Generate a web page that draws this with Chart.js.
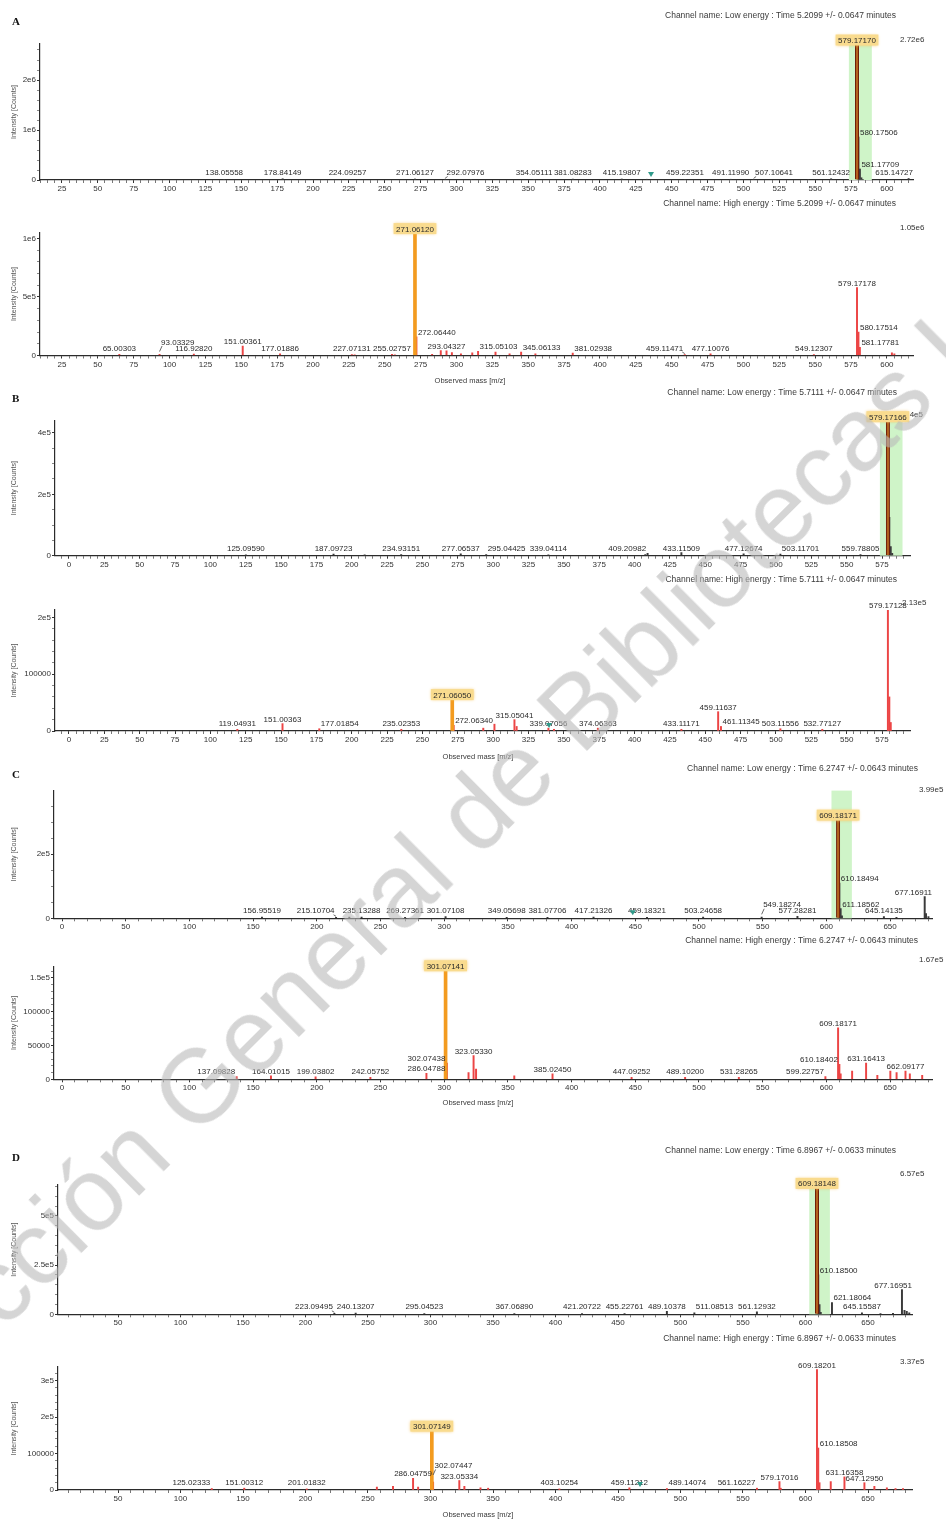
<!DOCTYPE html>
<html>
<head>
<meta charset="utf-8">
<script src="https://cdn.jsdelivr.net/npm/chart.js@4.4.1/dist/chart.umd.min.js"></script>
<style>
  html, body { margin: 0; padding: 0; background: #fff; }
  #page { position: relative; width: 946px; height: 1521px; overflow: hidden; background: #fff; }
  #page canvas { position: absolute; left: 0; }
  #wm {
    position: absolute; left: -158px; top: 1388px; white-space: nowrap;
    font-family: "Liberation Sans", Arial, sans-serif; font-size: 104px; line-height: 104px;
    color: rgba(185, 185, 185, 0.6); transform-origin: 0 50%; transform: rotate(-44.8deg);
    pointer-events: none;
  }
</style>
</head>
<body>
<div id="page">
  <div id="wm">Dirección General de Bibliotecas UAQ</div>
</div>
<script>
// ---------- spectra: [m/z, intensity (counts)] ----------
const peaksA1 = [
  [138.05558, 1.2e4], [178.84149, 2.5e4], [224.09257, 1.0e4], [271.06127, 2.0e4],
  [292.07976, 1.5e4], [354.05111, 1.2e4], [381.08283, 1.8e4], [415.19807, 2.0e4],
  [459.22351, 1.0e4], [491.11990, 1.5e4], [507.10641, 1.2e4], [561.12432, 2.5e4],
  [579.17170, 2.72e6], [580.17506, 8.6e5], [581.17709, 2.2e5], [615.14727, 3.0e4]
];
const noiseA1 = [[432.6, 1.5e4], [582.2, 4.5e4], [583.2, 1.2e4], [177.6, 8e3], [310.1, 6e3], [545.2, 8e3]];

const peaksA2 = [
  [65.00303, 1.0e4], [93.03329, 1.0e4], [116.92820, 1.2e4], [151.00361, 8e4], [177.01886, 1.5e4],
  [227.07131, 8e3], [255.02757, 1.0e4], [271.06120, 1.05e6], [272.06440, 1.6e5], [293.04327, 4e4],
  [315.05103, 3.5e4], [345.06133, 3e4], [381.02938, 2e4], [459.11471, 8e3], [477.10076, 1.5e4],
  [549.12307, 8e3], [579.17178, 5.8e5], [580.17514, 2.0e5], [581.17781, 7e4]
];
const noiseA2 = [[283.0, 1.0e4], [289.05, 4.2e4], [296.8, 2.5e4], [303.1, 1.5e4], [311.0, 2.2e4], [327.2, 3.0e4],
  [337.0, 1.5e4], [355.0, 1.5e4], [603.5, 2.2e4], [605.2, 1.5e4], [257.0, 6e3], [229.0, 5e3]];

const peaksB1 = [
  [125.09590, 3e3], [187.09723, 5e3], [234.93151, 4e3], [277.06537, 6e3], [295.04425, 4e3], [339.04114, 3e3],
  [409.20982, 8e3], [433.11509, 1.0e4], [477.12674, 6e3], [503.11701, 5e3], [559.78805, 4e3], [579.17166, 4.4e5]
];
const noiseB1 = [[580.17, 1.25e5], [581.17, 3.0e4], [582.2, 8e3], [407.6, 4e3], [209.1, 3e3]];

const peaksB2 = [
  [119.04931, 3e3], [151.00363, 1.3e4], [177.01854, 4e3], [235.02353, 3e3], [271.06050, 5.7e4], [272.06340, 1.0e4],
  [315.05041, 2.0e4], [339.07056, 5e3], [374.06363, 5e3], [433.11171, 3e3], [459.11637, 3.4e4], [461.11345, 8e3],
  [503.11556, 4e3], [532.77127, 3e3], [579.17128, 2.13e5]
];
const noiseB2 = [[580.17, 6.0e4], [581.18, 1.5e4], [300.9, 1.2e4], [293.0, 5e3], [316.6, 8e3], [343.0, 3e3]];

const peaksC1 = [
  [156.95519, 4e3], [215.10704, 3e3], [235.13288, 4e3], [269.27361, 3e3], [301.07108, 5e3], [349.05698, 3e3],
  [381.07706, 3e3], [417.21326, 4e3], [459.18321, 3e3], [503.24658, 4e3], [549.18274, 4e3], [577.28281, 6e3],
  [609.18171, 3.1e5], [610.18494, 1.1e5], [611.18562, 3e4], [645.14135, 5e3], [677.16911, 6.75e4]
];
const noiseC1 = [[612.2, 8e3], [678.2, 1.5e4], [680.1, 5e3], [655.0, 3e3], [225.5, 4e3]];

const peaksC2 = [
  [137.09828, 4e3], [164.01015, 5e3], [199.03802, 3.5e3], [242.05752, 3e3], [286.04788, 9e3], [301.07141, 1.62e5],
  [302.07438, 2.4e4], [323.05330, 3.5e4], [385.02450, 8e3], [447.09252, 3e3], [489.10200, 3e3], [531.28265, 3e3],
  [599.22757, 4e3], [609.18171, 7.6e4], [610.18402, 2.2e4], [631.16413, 2.4e4], [662.09177, 1.2e4]
];
const noiseC2 = [[319.1, 1.0e4], [325.0, 1.5e4], [355.0, 5e3], [611.2, 8e3], [620.2, 1.2e4], [640.0, 6e3],
  [650.2, 1.2e4], [655.1, 1.0e4], [665.5, 8e3], [675.2, 6e3]];

const peaksD1 = [
  [223.09495, 5e3], [240.13207, 6e3], [295.04523, 4e3], [367.06890, 4e3], [421.20722, 4e3], [455.22761, 4e3],
  [489.10378, 1.5e4], [511.08513, 8e3], [561.12932, 1.2e4], [609.18148, 6.45e5], [610.18500, 2.0e5], [621.18064, 6e4],
  [645.15587, 8e3], [677.16951, 1.25e5]
];
const noiseD1 = [[611.2, 5e4], [612.2, 1.0e4], [679.2, 2.0e4], [681.0, 1.5e4], [683.0, 8e3], [670.0, 5e3], [660.0, 4e3]];

const peaksD2 = [
  [125.02333, 4e3], [151.00312, 5e3], [201.01832, 3e3], [286.04759, 3.2e4], [301.07149, 1.64e5], [302.07447, 2.2e4],
  [323.05334, 2.6e4], [403.10254, 3e3], [459.11212, 6e3], [489.14074, 4e3], [561.16227, 5e3], [579.17016, 2.3e4],
  [609.18201, 3.3e5], [610.18508, 1.15e5], [631.16358, 3.6e4], [647.12950, 2.0e4]
];
const noiseD2 = [[620.2, 2.3e4], [611.2, 2.0e4], [655.1, 1.0e4], [665.1, 6e3], [672.0, 4e3], [678.0, 4e3],
  [257.1, 8e3], [270.0, 1.0e4], [290.1, 8e3], [327.1, 1.0e4], [340.0, 6e3], [346.1, 5e3], [580.2, 5e3]];

// selected ion in each spectrum (highlighted)
const focusA1 = 579.17170, focusA2 = 271.06120;
const focusB1 = 579.17166, focusB2 = 271.06050;
const focusC1 = 609.18171, focusC2 = 301.07141;
const focusD1 = 609.18148, focusD2 = 301.07149;

// precursor isolation windows (low energy)
const windowA1 = [573.5, 589.5];
const windowB1 = [573.5, 589.5];
const windowC1 = [604, 620];
const windowD1 = [603, 619.5];

// flagged positions
const flagsA1 = [435.6];
const flagsB2 = [339.5];
const flagsC1 = [448];
const flagsD2 = [467.6];

// full-scale intensity of each plot
const fullScaleA1 = 2.72e6, fullScaleA2 = 1.05e6;
const fullScaleB1 = 4.4e5, fullScaleB2 = 2.13e5;
const fullScaleC1 = 3.99e5, fullScaleC2 = 1.67e5;
const fullScaleD1 = 6.57e5, fullScaleD2 = 3.37e5;

// m/z axis extents
const xRangeA = [9.7, 618.2];
const xRangeB = [-9.9, 594.8];
const xRangeC = [-6.3, 682.9];
const xRangeD = [2, 685.2];

// tick labels
const xTicksA = [25, 50, 75, 100, 125, 150, 175, 200, 225, 250, 275, 300, 325, 350, 375, 400, 425, 450, 475, 500, 525, 550, 575, 600];
const xTicksB = [0, 25, 50, 75, 100, 125, 150, 175, 200, 225, 250, 275, 300, 325, 350, 375, 400, 425, 450, 475, 500, 525, 550, 575];
const xTicksC = [0, 50, 100, 150, 200, 250, 300, 350, 400, 450, 500, 550, 600, 650];
const xTicksD = [50, 100, 150, 200, 250, 300, 350, 400, 450, 500, 550, 600, 650];

const yTicksA1 = [0, 1e6, 2e6],              yTextA1 = ['0', '1e6', '2e6'];
const yTicksA2 = [0, 5e5, 1e6],              yTextA2 = ['0', '5e5', '1e6'];
const yTicksB1 = [0, 2e5, 4e5],              yTextB1 = ['0', '2e5', '4e5'];
const yTicksB2 = [0, 1e5, 2e5],              yTextB2 = ['0', '100000', '2e5'];
const yTicksC1 = [0, 2e5],                   yTextC1 = ['0', '2e5'];
const yTicksC2 = [0, 5e4, 1e5, 1.5e5],       yTextC2 = ['0', '50000', '100000', '1.5e5'];
const yTicksD1 = [0, 2.5e5, 5e5],            yTextD1 = ['0', '2.5e5', '5e5'];
const yTicksD2 = [0, 1e5, 2e5, 3e5],         yTextD2 = ['0', '100000', '2e5', '3e5'];

const channelA1 = 'Channel name: Low energy : Time 5.2099 +/- 0.0647 minutes';
const channelA2 = 'Channel name: High energy : Time 5.2099 +/- 0.0647 minutes';
const channelB1 = 'Channel name: Low energy : Time 5.7111 +/- 0.0647 minutes';
const channelB2 = 'Channel name: High energy : Time 5.7111 +/- 0.0647 minutes';
const channelC1 = 'Channel name: Low energy : Time 6.2747 +/- 0.0643 minutes';
const channelC2 = 'Channel name: High energy : Time 6.2747 +/- 0.0643 minutes';
const channelD1 = 'Channel name: Low energy : Time 6.8967 +/- 0.0633 minutes';
const channelD2 = 'Channel name: High energy : Time 6.8967 +/- 0.0633 minutes';

// ---------- page layout (pixel boxes for each plot) ----------
const panels = [
  { letter: 'A', channel: channelA1, peaks: peaksA1, noise: noiseA1, focus: focusA1, window: windowA1, flags: flagsA1,
    fullScale: fullScaleA1, xRange: xRangeA, xTicks: xTicksA, xMinor: 5, yTicks: yTicksA1, yText: yTextA1, yMinor: 2e5, low: true,
    box: { top: 0, h: 200, l: 40, r: 913, t: 44, b: 180 }, chan: [896, 16], full: [900, 40], letterAt: [12, 22] },
  { channel: channelA2, peaks: peaksA2, noise: noiseA2, focus: focusA2, flags: [],
    fullScale: fullScaleA2, xRange: xRangeA, xTicks: xTicksA, xMinor: 5, yTicks: yTicksA2, yText: yTextA2, yMinor: 1e5, low: false,
    box: { top: 198, h: 192, l: 40, r: 913, t: 232.6, b: 355.5 }, chan: [896, 204], full: [900, 228], xTitle: [470, 381] },
  { letter: 'B', channel: channelB1, peaks: peaksB1, noise: noiseB1, focus: focusB1, window: windowB1, flags: [],
    fullScale: fullScaleB1, xRange: xRangeB, xTicks: xTicksB, xMinor: 5, yTicks: yTicksB1, yText: yTextB1, yMinor: 5e4, low: true,
    box: { top: 386, h: 190, l: 55, r: 910, t: 420.7, b: 555.7 }, chan: [897, 393], full: [903, 415], letterAt: [12, 399] },
  { channel: channelB2, peaks: peaksB2, noise: noiseB2, focus: focusB2, flags: flagsB2,
    fullScale: fullScaleB2, xRange: xRangeB, xTicks: xTicksB, xMinor: 5, yTicks: yTicksB2, yText: yTextB2, yMinor: 2e4, low: false,
    box: { top: 575, h: 190, l: 55, r: 910, t: 610, b: 731 }, chan: [897, 580], full: [902, 603], xTitle: [478, 757] },
  { letter: 'C', channel: channelC1, peaks: peaksC1, noise: noiseC1, focus: focusC1, window: windowC1, flags: flagsC1,
    fullScale: fullScaleC1, xRange: xRangeC, xTicks: xTicksC, xMinor: 10, yTicks: yTicksC1, yText: yTextC1, yMinor: 5e4, low: true,
    box: { top: 762, h: 176, l: 54, r: 932, t: 790.6, b: 918.3 }, chan: [918, 769], full: [919, 790], letterAt: [12, 775] },
  { channel: channelC2, peaks: peaksC2, noise: noiseC2, focus: focusC2, flags: [],
    fullScale: fullScaleC2, xRange: xRangeC, xTicks: xTicksC, xMinor: 10, yTicks: yTicksC2, yText: yTextC2, yMinor: 1e4, low: false,
    box: { top: 935, h: 176, l: 54, r: 932, t: 966.4, b: 1079.3 }, chan: [918, 941], full: [919, 960], xTitle: [478, 1103] },
  { letter: 'D', channel: channelD1, peaks: peaksD1, noise: noiseD1, focus: focusD1, window: windowD1, flags: [],
    fullScale: fullScaleD1, xRange: xRangeD, xTicks: xTicksD, xMinor: 10, yTicks: yTicksD1, yText: yTextD1, yMinor: 5e4, low: true,
    box: { top: 1143, h: 192, l: 58, r: 912, t: 1185, b: 1314.3 }, chan: [896, 1151], full: [900, 1174], letterAt: [12, 1158] },
  { channel: channelD2, peaks: peaksD2, noise: noiseD2, focus: focusD2, flags: flagsD2,
    fullScale: fullScaleD2, xRange: xRangeD, xTicks: xTicksD, xMinor: 10, yTicks: yTicksD2, yText: yTextD2, yMinor: 2e4, low: false,
    box: { top: 1333, h: 188, l: 58, r: 912, t: 1367, b: 1490 }, chan: [896, 1339], full: [900, 1362], xTitle: [478, 1515] }
];

const SANS = '"Liberation Sans", Arial, sans-serif';
const LABEL_FONT = '8px ' + SANS;
const X_AXIS_H = 14;
const LIFT_STEP = 6;

function sci(v) {
  const e = Math.floor(Math.log10(v));
  const m = parseFloat((v / Math.pow(10, e)).toFixed(2));
  return m + 'e' + e;
}

function stepTicks(min, max, step) {
  const out = [];
  for (let k = Math.ceil(min / step - 1e-9); k * step <= max + 1e-9; k++) out.push({ value: +(k * step).toFixed(6) });
  return out;
}

function isIn(list, v, tol) { return list.findIndex(t => Math.abs(t - v) < tol); }

// Peak annotation: most intense first, shifted/raised when a spot is taken
function drawAnnotations(chart, p) {
  const { ctx, chartArea: a, scales: { x: xs, y: ys } } = chart;
  const base = ys.getPixelForValue(0);
  const sticks = p.peaks.concat(p.noise).map(([m, v]) => ({ m, x: xs.getPixelForValue(m), top: ys.getPixelForValue(v) }));
  const order = p.peaks.map(([m, v]) => ({ m, v, focus: m === p.focus }))
    .sort((A, B) => (B.focus - A.focus) || (B.v - A.v));
  ctx.save();
  ctx.font = LABEL_FONT;
  const placed = [], out = [];
  for (const it of order) {
    const text = it.m.toFixed(5);
    const w = ctx.measureText(text).width;
    const px = xs.getPixelForValue(it.m), top = ys.getPixelForValue(it.v);
    const padX = it.focus ? 2.5 : 0.6, padT = it.focus ? 8.5 : 5.8, padB = it.focus ? 2.5 : 0;
    const b0 = it.focus ? top - 1 : Math.min(top - 2, base - 5);
    const cands = [[0, 0], [1, 0], [-1, 0]];
    for (let L = 1; L <= 16; L++) cands.push([1, L], [-1, L], [0, L]);
    let pick = null;
    for (const [dir, L] of cands) {
      const bl = b0 - L * LIFT_STEP;
      let left = dir === 0 ? px - w / 2 : dir === 1 ? px + 1.5 : px - 1.5 - w;
      left = Math.max(a.left + 2, Math.min(left, a.right - w));
      const box = { l: left - padX, r: left + w + padX, t: bl - padT, b: bl + padB };
      if (placed.some(q => q.l < box.r && box.l < q.r && q.t < box.b && box.t < q.b)) continue;
      if (!it.focus && sticks.some(s => s.m !== it.m && s.x > left + 0.5 && s.x < left + w - 0.5 && s.top < box.b)) continue;
      pick = { left, bl, box, dir, L };
      break;
    }
    if (!pick) continue;
    placed.push(pick.box);
    out.push({ text, px, top, w, focus: it.focus, ...pick });
  }
  // leaders
  ctx.strokeStyle = '#444';
  ctx.lineWidth = 0.8;
  for (const o of out) {
    if (o.focus || (o.dir === 0 && o.L === 0)) continue;
    const ex = o.dir === 1 ? o.left + 1 : o.dir === -1 ? o.left + o.w - 1 : o.px;
    const ey = o.bl + 1.5;
    const sy = Math.min(o.top - 1, o.bl + 7);
    if (sy - ey < 1.5) continue;
    ctx.beginPath(); ctx.moveTo(o.px, sy); ctx.lineTo(ex, ey); ctx.stroke();
  }
  // boxes + text
  ctx.textBaseline = 'alphabetic';
  ctx.textAlign = 'left';
  for (const o of out) {
    if (o.focus) {
      ctx.save();
      ctx.shadowColor = 'rgba(245,195,90,0.9)';
      ctx.shadowBlur = 3;
      ctx.fillStyle = '#f9db8e';
      ctx.fillRect(o.box.l, o.box.t, o.box.r - o.box.l, o.box.b - o.box.t);
      ctx.restore();
    }
    ctx.fillStyle = '#2a2a2a';
    ctx.fillText(o.text, o.left, o.bl);
  }
  // flags
  ctx.fillStyle = '#2f9a8a';
  for (const m of p.flags) {
    const fx = xs.getPixelForValue(m);
    ctx.beginPath();
    ctx.moveTo(fx - 3, base - 8); ctx.lineTo(fx + 3, base - 8); ctx.lineTo(fx, base - 3); ctx.closePath();
    ctx.fill();
  }
  ctx.restore();
}

function spectrumPlugin(p) {
  const oy = p.box.top;
  return {
    id: 'spectrumDecor',
    beforeDatasetsDraw(chart) {
      const { ctx, chartArea: a, scales: { x: xs } } = chart;
      ctx.save();
      if (p.window) {
        const x0 = xs.getPixelForValue(p.window[0]), x1 = xs.getPixelForValue(p.window[1]);
        ctx.fillStyle = '#cff4c8';
        ctx.fillRect(x0, a.top, x1 - x0, a.bottom - a.top);
      }
      ctx.font = '8px ' + SANS;
      ctx.fillStyle = '#333';
      ctx.textBaseline = 'middle';
      ctx.textAlign = 'left';
      ctx.fillText(sci(p.fullScale), p.full[0], p.full[1] - oy);
      ctx.restore();
    },
    afterDatasetsDraw(chart) { drawAnnotations(chart, p); },
    afterDraw(chart) {
      const { ctx, chartArea: a } = chart;
      ctx.save();
      ctx.fillStyle = '#3a3a3a';
      ctx.textBaseline = 'middle';
      ctx.font = '8.5px ' + SANS;
      ctx.textAlign = 'right';
      ctx.fillText(p.channel, p.chan[0], p.chan[1] - oy);
      if (p.letter) {
        ctx.font = 'bold 11px "Liberation Serif", serif';
        ctx.textAlign = 'left';
        ctx.fillStyle = '#111';
        ctx.fillText(p.letter, p.letterAt[0], p.letterAt[1] - oy);
      }
      if (p.xTitle) {
        ctx.font = '7.5px ' + SANS;
        ctx.textAlign = 'center';
        ctx.fillStyle = '#3a3a3a';
        ctx.fillText('Observed mass [m/z]', p.xTitle[0], p.xTitle[1] - oy);
      }
      ctx.translate(14, (a.top + a.bottom) / 2);
      ctx.rotate(-Math.PI / 2);
      ctx.font = '7px ' + SANS;
      ctx.textAlign = 'center';
      ctx.fillStyle = '#555';
      ctx.fillText('Intensity [Counts]', 0, 0);
      ctx.restore();
    }
  };
}

function buildPanel(p) {
  const page = document.getElementById('page');
  const cv = document.createElement('canvas');
  cv.width = 946; cv.height = p.box.h;
  cv.style.top = p.box.top + 'px';
  cv.style.width = '946px'; cv.style.height = p.box.h + 'px';
  page.insertBefore(cv, document.getElementById('wm'));

  const toPts = arr => arr.map(([m, v]) => ({ x: m, y: v }));
  const focusPeak = p.peaks.filter(([m]) => m === p.focus);
  const rest = p.peaks.filter(([m]) => m !== p.focus).concat(p.noise);
  const stickColor = p.low ? '#3b3b3b' : '#ec4545';

  const padTop = p.box.t - p.box.top;
  const padBottom = p.box.h - (p.box.b - p.box.top) - X_AXIS_H;
  const yMax = p.fullScale;

  new Chart(cv, {
    type: 'bar',
    data: {
      datasets: [
        {
          data: toPts(focusPeak), order: 0, grouped: false, barThickness: p.low ? 3.4 : 3,
          backgroundColor: p.low ? '#b3611e' : '#f39b1f',
          borderColor: '#6e1c08', borderWidth: p.low ? { left: 1, right: 1, top: 0, bottom: 0 } : 0
        },
        { data: toPts(rest), order: 1, grouped: false, barThickness: 1.3, backgroundColor: stickColor, borderWidth: 0 }
      ]
    },
    options: {
      responsive: false, animation: false, devicePixelRatio: 1,
      layout: { padding: { left: 0, right: 946 - p.box.r, top: padTop, bottom: padBottom } },
      plugins: { legend: { display: false }, tooltip: { enabled: false } },
      scales: {
        x: {
          type: 'linear', min: p.xRange[0], max: p.xRange[1], bounds: 'data', offset: false,
          afterBuildTicks: s => { s.ticks = stepTicks(p.xRange[0], p.xRange[1], p.xMinor); },
          afterFit: s => { s.height = X_AXIS_H; },
          grid: {
            offset: false, drawOnChartArea: false, drawTicks: true, tickLength: 3,
            color: c => (c.tick && isIn(p.xTicks, c.tick.value, 1e-6) >= 0) ? '#333' : '#777'
          },
          border: { display: true, color: '#2b2b2b', width: 1.2 },
          ticks: {
            autoSkip: false, maxRotation: 0, minRotation: 0, padding: 1,
            font: { family: SANS, size: 8 }, color: '#333',
            callback: v => (isIn(p.xTicks, v, 1e-6) >= 0 ? String(v) : '')
          }
        },
        y: {
          type: 'linear', min: 0, max: yMax, bounds: 'data',
          afterBuildTicks: s => { s.ticks = stepTicks(0, yMax, p.yMinor); },
          afterFit: s => { s.width = p.box.l; },
          grid: {
            drawOnChartArea: false, drawTicks: true, tickLength: 3,
            color: c => (c.tick && isIn(p.yTicks, c.tick.value, p.yMinor * 1e-3) >= 0) ? '#333' : '#888'
          },
          border: { display: true, color: '#2b2b2b', width: 1.2 },
          ticks: {
            autoSkip: false, padding: 1, font: { family: SANS, size: 8 }, color: '#333',
            callback: v => { const i = isIn(p.yTicks, v, p.yMinor * 1e-3); return i >= 0 ? p.yText[i] : ''; }
          }
        }
      }
    },
    plugins: [spectrumPlugin(p)]
  });
}

panels.forEach(buildPanel);
</script>
</body>
</html>
